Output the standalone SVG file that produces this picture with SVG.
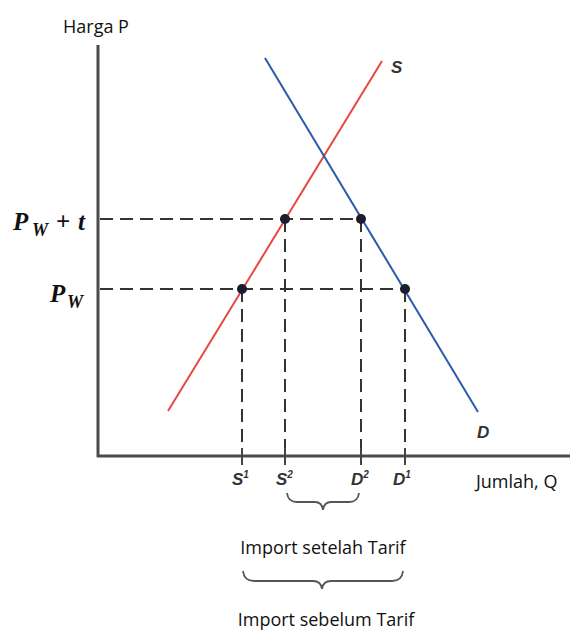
<svg xmlns="http://www.w3.org/2000/svg" width="579" height="635" viewBox="0 0 579 635">
<style>
.lbl{font-family:"Open Sans","Liberation Sans",sans-serif;font-size:18px;fill:#111}
.math{font-family:"Liberation Serif",serif;font-weight:bold;font-style:italic;fill:#111}
.cv{font-family:"Liberation Sans",sans-serif;font-weight:bold;font-style:italic;fill:#333;font-size:17px}
.dash{stroke:#333;stroke-width:2;stroke-dasharray:13 7;fill:none}
.axis{stroke:#4a4a4a;stroke-width:3;fill:none}
.tick{stroke:#444;stroke-width:2}
.brace{stroke:#555;stroke-width:1.8;fill:none}
</style>
<rect width="579" height="635" fill="#fff"/>
<g id="axes">
<line class="axis" x1="98" y1="45" x2="98" y2="457"/>
<line class="axis" x1="97" y1="456" x2="570" y2="456"/>
<text class="lbl" x="63" y="33">Harga P</text>
<text class="lbl" x="476" y="488">Jumlah, Q</text>
</g>
<g id="connectors">
<line class="dash" x1="100" y1="219" x2="361" y2="219"/>
<line class="dash" x1="100" y1="289" x2="405" y2="289"/>
<line class="dash" x1="242" y1="289" x2="242" y2="455"/>
<line class="dash" x1="285" y1="219" x2="285" y2="455"/>
<line class="dash" x1="361" y1="219" x2="361" y2="455"/>
<line class="dash" x1="405" y1="289" x2="405" y2="455"/>
</g>
<g id="ticks">
<line class="tick" x1="242" y1="448" x2="242" y2="465"/>
<line class="tick" x1="285" y1="448" x2="285" y2="465"/>
<line class="tick" x1="361" y1="448" x2="361" y2="465"/>
<line class="tick" x1="405" y1="448" x2="405" y2="465"/>
</g>
<g id="supply">
<line x1="168" y1="411" x2="382" y2="61" stroke="#e5473f" stroke-width="2"/>
<text class="cv" x="391" y="73" font-size="16">S</text>
</g>
<g id="demand">
<line x1="265" y1="58" x2="478" y2="412" stroke="#2b5aa6" stroke-width="2"/>
<text class="cv" x="477" y="438" font-size="18">D</text>
</g>
<g id="points" fill="#1c1c2e">
<circle cx="285" cy="219" r="5"/>
<circle cx="361" cy="219" r="5"/>
<circle cx="242" cy="289" r="5"/>
<circle cx="405" cy="289" r="5"/>
</g>
<g id="price-labels">
<text class="math" font-size="25"><tspan x="13" y="230">P</tspan><tspan x="32" y="236" font-size="18">W</tspan><tspan x="56" y="230" font-style="normal">+</tspan><tspan x="78" y="230">t</tspan></text>
<text class="math" font-size="25"><tspan x="50" y="302">P</tspan><tspan x="67" y="308" font-size="18">W</tspan></text>
</g>
<g id="q-labels">
<text class="cv" x="232" y="485">S<tspan font-size="10" dy="-7">1</tspan></text>
<text class="cv" x="276" y="485">S<tspan font-size="10" dy="-7">2</tspan></text>
<text class="cv" x="351" y="485">D<tspan font-size="10" dy="-7">2</tspan></text>
<text class="cv" x="393" y="485">D<tspan font-size="10" dy="-7">1</tspan></text>
</g>
<g id="brace-after">
<path class="brace" d="M287 493 Q288 502 297 502 L315 502 Q322 502 323 510 Q324 502 331 502 L349 502 Q358 502 359 493"/>
<text class="lbl" x="323" y="554" text-anchor="middle">Import setelah Tarif</text>
</g>
<g id="brace-before">
<path class="brace" d="M243 571 Q244 581 254 581 L313 581 Q321 581 322 589 Q323 581 331 581 L392 581 Q402 581 403 571"/>
<text class="lbl" x="326" y="626" text-anchor="middle">Import sebelum Tarif</text>
</g>
</svg>
